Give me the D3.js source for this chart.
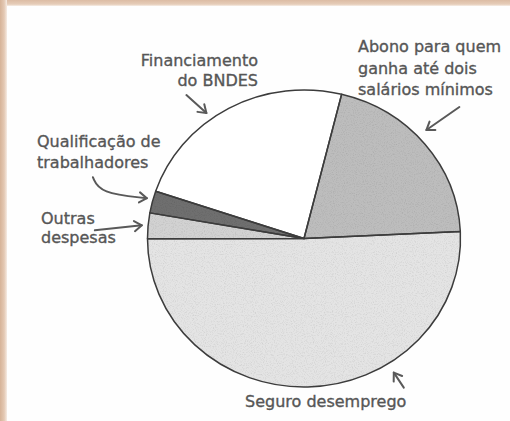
<!DOCTYPE html>
<html>
<head>
<meta charset="utf-8">
<script src="https://cdn.jsdelivr.net/npm/d3@7"></script>
<style>
  html, body { margin: 0; padding: 0; background: #fff; }
  svg { display: block; }
  .label { font-family: 'DejaVu Sans', Verdana, sans-serif; font-size: 16px; fill: #565656; stroke: #565656; stroke-width: 0.35px; }
</style>
</head>
<body>
<svg id="chart"></svg>
<script>
const width = 510
const height = 421

// data (percent of spending)
const categories = ['Abono para quem ganha até dois salários mínimos', 'Seguro desemprego', 'Outras despesas', 'Qualificação de trabalhadores', 'Financiamento do BNDES']
const values = [20.4, 50.7, 2.8, 2.4, 23.7]
const labelLines = [
  ['Abono para quem', 'ganha até dois', 'salários mínimos'],
  ['Seguro desemprego'],
  ['Outras', 'despesas'],
  ['Qualificação de', 'trabalhadores'],
  ['Financiamento', 'do BNDES']
]

const fills = ['#bdbdbd', '#e4e4e4', '#d2d2d2', '#6f6f6f', '#ffffff']

const cx = 304, cy = 238.5, rx = 156.5, ry = 148.5

// label / arrow layout, per slice index
const layout = [
  { x: 358, y: 52, dy: 21.5, anchor: 'start', t: 0.45, k: 1.07, tail: [[33, -23]] },
  { x: 245, y: 407, dy: 0, anchor: 'start', t: 0.33, k: 1.07, tail: [[10, 15]] },
  { x: 41, y: 224, dy: 18.5, anchor: 'start', t: 0.5, k: 1.04, tail: [[-47, 5]] },
  { x: 37, y: 147, dy: 21, anchor: 'start', t: 0.6, k: 1.04, tail: [[-54, -21], [-47, -5]] },
  { x: 258, y: 66, dy: 19.5, anchor: 'end', t: 0.41, k: 1.05, tail: [[-20, -18]] }
]

const svg = d3.select('#chart').attr('width', width).attr('height', height)
const defs = svg.append('defs')

// scanned-paper frame
const gTop = defs.append('linearGradient').attr('id', 'gTop').attr('x1', 0).attr('y1', 0).attr('x2', 0).attr('y2', 1)
gTop.append('stop').attr('offset', 0).attr('stop-color', '#dcbca4')
gTop.append('stop').attr('offset', 0.7).attr('stop-color', '#e6cdb9')
gTop.append('stop').attr('offset', 1).attr('stop-color', '#f7eee7')
const gLeft = defs.append('linearGradient').attr('id', 'gLeft').attr('x1', 0).attr('y1', 0).attr('x2', 1).attr('y2', 0)
gLeft.append('stop').attr('offset', 0).attr('stop-color', '#d6b398')
gLeft.append('stop').attr('offset', 0.6).attr('stop-color', '#e4c9b4')
gLeft.append('stop').attr('offset', 1).attr('stop-color', '#f6ece4')

svg.append('rect').attr('width', width).attr('height', height).attr('fill', '#fefefe')
svg.append('rect').attr('x', 0).attr('y', 0).attr('width', width).attr('height', 6).attr('fill', 'url(#gTop)')
svg.append('rect').attr('x', 0).attr('y', 0).attr('width', 7).attr('height', height).attr('fill', 'url(#gLeft)')

// grain for the print look
const grain = defs.append('filter').attr('id', 'grain').attr('x', 0).attr('y', 0).attr('width', 1).attr('height', 1)
grain.append('feTurbulence').attr('type', 'fractalNoise').attr('baseFrequency', 0.9).attr('numOctaves', 2).attr('seed', 3)
grain.append('feColorMatrix').attr('type', 'matrix')
  .attr('values', '0 0 0 0 0  0 0 0 0 0  0 0 0 0 0  0 0 0 -1.4 0.75')

const pie = d3.pie().sort(null).startAngle(13.9 * Math.PI / 180).endAngle(13.9 * Math.PI / 180 + 2 * Math.PI)
const arcs = pie(values)
const arc = d3.arc().innerRadius(0).outerRadius(ry)
const pieTransform = `translate(${cx},${cy}) scale(${rx / ry},1)`

const pieG = svg.append('g').attr('transform', pieTransform)

defs.append('clipPath').attr('id', 'pieClip')
  .append('ellipse').attr('cx', cx).attr('cy', cy).attr('rx', rx).attr('ry', ry)

pieG.selectAll('path.slice')
  .data(arcs)
  .enter()
  .append('path')
  .attr('class', 'slice')
  .attr('d', arc)
  .attr('fill', (d, i) => fills[i])

// noise over the grey slices (white slice stays clean)
const noiseG = svg.append('g').attr('clip-path', 'url(#pieClip)').attr('opacity', 0.14)
noiseG.append('rect').attr('x', cx - rx).attr('y', cy - ry).attr('width', 2 * rx).attr('height', 2 * ry)
  .attr('filter', 'url(#grain)')

const topG = svg.append('g').attr('transform', pieTransform)
topG.append('path').datum(arcs[4]).attr('d', arc).attr('fill', fills[4])

topG.selectAll('path.edge')
  .data(arcs)
  .enter()
  .append('path')
  .attr('class', 'edge')
  .attr('d', arc)
  .attr('fill', 'none')
  .attr('stroke', '#3c3c3c')
  .attr('stroke-width', 1.5)
  .attr('stroke-linejoin', 'round')
  .attr('vector-effect', 'non-scaling-stroke')

function edgePoint(d, t, k) {
  const a = d.startAngle + t * (d.endAngle - d.startAngle)
  return [cx + rx * k * Math.sin(a), cy - ry * k * Math.cos(a)]
}

// arrows
const arrowG = svg.append('g')
  .attr('fill', 'none')
  .attr('stroke', '#595959')
  .attr('stroke-width', 2)
  .attr('stroke-linecap', 'round')
  .attr('stroke-linejoin', 'round')

arcs.forEach((d, i) => {
  const L = layout[i]
  const tip = edgePoint(d, L.t, L.k)
  const pts = L.tail.map(o => [tip[0] + o[0], tip[1] + o[1]])
  pts.push(tip)
  const line = pts.length > 2 ? d3.line().curve(d3.curveBasis) : d3.line()
  arrowG.append('path').attr('d', line(pts))
  // open head
  const prev = pts[pts.length - 2]
  const ang = Math.atan2(tip[1] - prev[1], tip[0] - prev[0])
  const hl = 9, ha = 0.6
  const h1 = [tip[0] - hl * Math.cos(ang - ha), tip[1] - hl * Math.sin(ang - ha)]
  const h2 = [tip[0] - hl * Math.cos(ang + ha), tip[1] - hl * Math.sin(ang + ha)]
  arrowG.append('path').attr('d', d3.line()([h1, tip, h2]))
})

// labels
arcs.forEach((d, i) => {
  const L = layout[i]
  const txt = svg.append('text').attr('class', 'label').attr('text-anchor', L.anchor)
  labelLines[i].forEach((s, j) => {
    txt.append('tspan').attr('x', L.x).attr('y', L.y + j * L.dy).text(s)
  })
})
</script>
</body>
</html>
